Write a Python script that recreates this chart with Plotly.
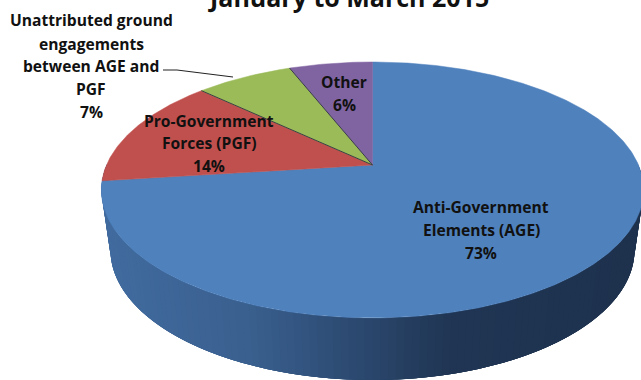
import numpy as np
import plotly.graph_objects as go

# Share of civilian casualties by party to the conflict
slice_order = ["Anti-Government Elements (AGE)", "Pro-Government Forces (PGF)",
               "Unattributed ground engagements between AGE and PGF", "Other"]
slice_values = [73, 14, 7, 6]
slice_colors = ["#4f81bd", "#c0504d", "#9bbb59", "#8064a2"]
title_text = "January to March 2015"

# Pixel-based drawing frame and the perspective used for the tilted disc
W, H = 641, 380
CX, CY = 372.5, 165.0
R, S, K = 266.0, 123.1, 0.195
FONT = "Open Sans"
INK = "#111111"


def project(theta):
    """Angle clockwise from 12 o'clock on the disc -> drawing coordinates."""
    u, v = np.sin(theta), np.cos(theta)
    d = 1 + K * v
    return CX + R * u / d, CY - S * v / d


# Outer wall of the disc: overlapping strips shaded from dark right to lit left,
# each one painted over the previous so no seams show between them
wall_stops_x = [100, 250, 330, 450, 641]
wall_stops_rgb = np.array([[66, 108, 160], [58, 96, 143], [47, 79, 120], [32, 54, 84], [30, 50, 78]])
fig = go.Figure()
ts = np.radians(np.linspace(-12, 192, 121))
for i in range(len(ts) - 1):
    tt = np.linspace(ts[i], ts[min(i + 4, len(ts) - 1)], 8)
    top_x, top_y = CX + 271 * np.cos(tt), 190 + 128 * np.sin(tt)
    bot_x, bot_y = CX + 262 * np.cos(tt), 250 + 130 * np.sin(tt)
    xs = np.r_[top_x, bot_x[::-1], top_x[0]]
    ys = np.r_[top_y, bot_y[::-1], top_y[0]]
    mid = CX + 267 * np.cos((ts[i] + ts[i + 1]) / 2)
    rgb = [np.interp(mid, wall_stops_x, wall_stops_rgb[:, c]) for c in range(3)]
    col = "rgb(%d,%d,%d)" % tuple(rgb)
    fig.add_trace(go.Scatter(x=xs, y=ys, mode="none", fill="toself", fillcolor=col,
                             hoverinfo="skip", showlegend=False))

# Top face: wedges clockwise from 12 o'clock, sized from the values
edges = np.cumsum([0] + slice_values) / sum(slice_values) * 2 * np.pi
for name, value, color, a0, a1 in zip(slice_order, slice_values, slice_colors, edges[:-1], edges[1:]):
    th = np.linspace(a0, a1, max(int(value * 6), 12))
    ax, ay = project(th)
    fig.add_trace(go.Scatter(x=np.r_[CX, ax, CX], y=np.r_[CY, ay, CY], mode="lines", fill="toself",
                             fillcolor=color, line=dict(color=color, width=0.5),
                             name=name, hoverinfo="name", showlegend=False))

# Thin dark seams along the green wedge
for a in edges[2:4]:
    ex, ey = project(a)
    fig.add_trace(go.Scatter(x=[CX, ex], y=[CY, ey], mode="lines", line=dict(color="#3a3f45", width=1),
                             hoverinfo="skip", showlegend=False))

# Leader line for the unattributed label
leader_x, leader_y = [163, 177, 233], [70, 70, 77]
fig.add_trace(go.Scatter(x=leader_x, y=leader_y, mode="lines", line=dict(color="#222222", width=1),
                         hoverinfo="skip", showlegend=False))

# Data labels, one annotation per line to hold the wide line pitch
labels = [
    (91, 20, "Unattributed ground"), (91, 44, "engagements"), (91, 66, "between AGE and"),
    (91, 89, "PGF"), (91, 112, "7%"),
    (209, 121, "Pro-Government"), (209, 143, "Forces (PGF)"), (209, 166, "14%"),
    (344, 82, "Other"), (344, 105, "6%"),
    (481, 207, "Anti-Government"), (481, 230, "Elements (AGE)"), (481, 253, "73%"),
]
annotations = [dict(x=x, y=y, text="<b>%s</b>" % t, showarrow=False, xanchor="center", yanchor="middle",
                    font=dict(family=FONT, size=15.6, color=INK)) for x, y, t in labels]
annotations.append(dict(x=348, y=0, yshift=3, text="<b>%s</b>" % title_text, showarrow=False, xanchor="center",
                        yanchor="middle", font=dict(family=FONT, size=25, color=INK)))

fig.update_layout(
    width=W, height=H, autosize=False, margin=dict(l=0, r=0, t=0, b=0),
    paper_bgcolor="white", plot_bgcolor="white", showlegend=False, annotations=annotations,
    xaxis=dict(range=[0, W], visible=False, fixedrange=True),
    yaxis=dict(range=[H, 0], visible=False, fixedrange=True),
)
fig.write_html("out.html", config={"displayModeBar": False})
